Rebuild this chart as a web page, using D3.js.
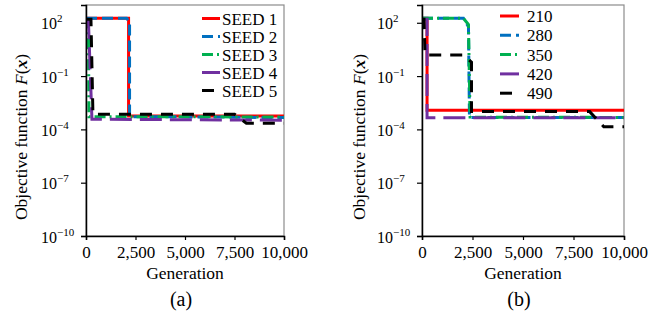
<!DOCTYPE html>
<html>
<head>
<meta charset="utf-8">
<script src="https://cdn.jsdelivr.net/npm/d3@7"></script>
<style>
  body { margin: 0; background: #fff; }
</style>
</head>
<body>
<svg id="chart" width="671" height="320" font-family="Liberation Serif"></svg>
<script>
// tick values
const genTicks = [0, 2500, 5000, 7500, 10000];
const yTickExps = [2, -1, -4, -7, -10];

// panel (a): different seeds
const seedNames = ["SEED 1", "SEED 2", "SEED 3", "SEED 4", "SEED 5"];
const seed1 = [[0, 180], [2150, 180], [2150, 5.6e-4], [10000, 5.6e-4]];
const seed2 = [[0, 180], [2050, 180], [2200, 110], [2200, 5.2e-4], [6000, 5.0e-4], [10000, 4.6e-4]];
const seed3 = [[0, 150], [120, 150], [150, 5.2e-4], [10000, 5.0e-4]];
const seed4 = [[0, 150], [120, 150], [300, 3.7e-4], [5000, 3.5e-4], [10000, 3.3e-4]];
const seed5 = [[0, 160], [250, 160], [350, 7.2e-4], [7500, 7.2e-4], [8100, 2.2e-4], [10000, 2.2e-4]];

// panel (b): different population sizes
const popNames = ["210", "280", "350", "420", "490"];
const pop210 = [[0, 180], [250, 180], [250, 1.2e-3], [10000, 1.2e-3]];
const pop280 = [[0, 180], [2050, 180], [2300, 60], [2350, 4.7e-4], [10000, 4.7e-4]];
const pop350 = [[0, 180], [2050, 180], [2300, 80], [2380, 4.9e-4], [10000, 4.7e-4]];
const pop420 = [[0, 160], [250, 160], [250, 4.5e-4], [10000, 4.5e-4]];
const pop490 = [[0, 160], [100, 160], [150, 1.55], [2050, 1.55], [2450, 0.6], [2450, 1.0e-3], [8300, 1.0e-3], [9000, 1.4e-4], [10000, 1.4e-4]];

const colors = ["#ff0000", "#0070c0", "#00b050", "#7030a0", "#000000"];
const dashes = [null, "11,5", "11,4,2,4", "22,8", "12,9"];
const FONT = "Liberation Serif";

const svg = d3.select("#chart");

function drawPanel(opt) {
    const g = svg.append("g").attr("font-family", FONT);
    const xScale = d3.scaleLinear().domain([0, 10000]).range([opt.x0, opt.x1]);
    const yScale = d3.scaleLog().domain([1e-10, 1e3]).range([236, 5]);

    // frame (top / right in grey)
    g.append("rect")
        .attr("x", opt.x0).attr("y", 5)
        .attr("width", opt.x1 - opt.x0).attr("height", 231)
        .attr("fill", "none").attr("stroke", "#8c8c8c").attr("stroke-width", 1.2);

    // lines
    const line = d3.line()
        .x(d => xScale(d[0]))
        .y(d => yScale(d[1]));
    opt.series.forEach(function(s, i) {
        g.append("path")
            .datum(s)
            .attr("d", line)
            .attr("fill", "none")
            .attr("stroke", colors[i])
            .attr("stroke-width", 3)
            .attr("stroke-dasharray", dashes[i]);
    });

    // x axis
    const xAxis = g.append("g")
        .attr("transform", "translate(0,236)")
        .call(d3.axisBottom(xScale).tickValues(genTicks).tickSize(4).tickFormat(d3.format(",")))
        .attr("font-family", FONT)
        .attr("font-size", 17);
    xAxis.select(".domain").attr("stroke", "#000").attr("stroke-width", 1.5);
    xAxis.selectAll(".tick line").attr("stroke", "#000").attr("stroke-width", 1.2);
    xAxis.selectAll(".tick text")
        .attr("y", 10).attr("dy", "0.71em")
        .attr("fill", "#000");

    // y axis, labels are drawn by hand because of the superscripts
    const yAxis = g.append("g")
        .attr("transform", "translate(" + opt.x0 + ",0)")
        .call(d3.axisLeft(yScale).tickValues(yTickExps.map(e => Math.pow(10, e))).tickSize(5).tickFormat(""));
    yAxis.select(".domain").attr("stroke", "#000").attr("stroke-width", 1.5);
    yAxis.selectAll(".tick line").attr("stroke", "#000").attr("stroke-width", 1.2);

    yTickExps.forEach(function(e) {
        const t = g.append("text")
            .attr("x", opt.x0 - 45)
            .attr("y", yScale(Math.pow(10, e)) + 6.5)
            .attr("font-size", 16);
        t.append("tspan").text("10");
        t.append("tspan")
            .attr("dy", "-7")
            .attr("font-size", 11)
            .text(e < 0 ? "\u2212" + (-e) : String(e));
    });

    // axis titles
    const cx = (opt.x0 + opt.x1) / 2;
    g.append("text")
        .attr("x", cx).attr("y", 279)
        .attr("text-anchor", "middle")
        .attr("font-size", 17.5)
        .text("Generation");

    const yt = g.append("text")
        .attr("transform", "translate(" + opt.titleX + ",137) rotate(-90)")
        .attr("text-anchor", "middle")
        .attr("font-size", 17.5);
    yt.append("tspan").text("Objective function ");
    yt.append("tspan").attr("font-style", "italic").text("F");
    yt.append("tspan").text("(");
    yt.append("tspan").attr("font-style", "italic").attr("font-weight", "bold").text("x");
    yt.append("tspan").text(")");

    g.append("text")
        .attr("x", cx - 4).attr("y", 306)
        .attr("text-anchor", "middle")
        .attr("font-size", 20)
        .text(opt.caption);

    // legend
    const legend = g.selectAll(".legend")
        .data(opt.names)
        .enter().append("g")
        .attr("class", "legend")
        .attr("transform", (d, i) => "translate(" + opt.legX + "," + (opt.legY + i * opt.legStep) + ")");
    legend.append("line")
        .attr("x1", 0).attr("x2", opt.legLen)
        .attr("stroke", (d, i) => colors[i])
        .attr("stroke-width", 3)
        .attr("stroke-dasharray", (d, i) => dashes[i]);
    legend.append("text")
        .attr("x", opt.legText).attr("y", 6)
        .attr("font-size", 17)
        .text(d => d);
}

drawPanel({
    x0: 86, x1: 284, titleX: 27, caption: "(a)",
    series: [seed1, seed2, seed3, seed4, seed5], names: seedNames,
    legX: 202, legY: 18.5, legStep: 18, legLen: 18, legText: 20
});

drawPanel({
    x0: 422, x1: 624, titleX: 365, caption: "(b)",
    series: [pop210, pop280, pop350, pop420, pop490], names: popNames,
    legX: 500, legY: 16, legStep: 19.3, legLen: 19, legText: 27
});
</script>
</body>
</html>
